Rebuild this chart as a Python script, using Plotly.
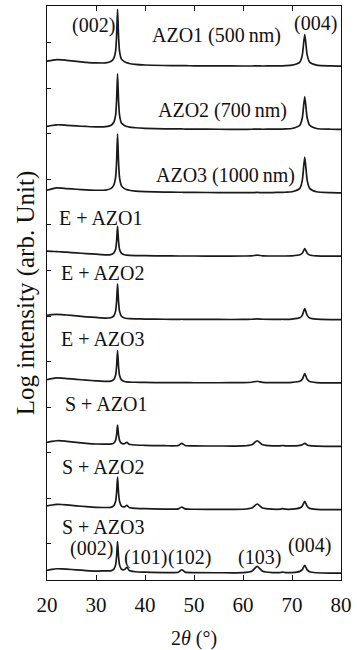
import plotly.graph_objects as go

# 2-theta sampling points shared by every pattern (degrees)
two_theta = [20, 21, 22, 23, 24, 26, 28, 30, 32, 33,
             33.6, 34.0, 34.2, 34.4, 34.6, 34.8, 35.2, 35.8, 36.3, 36.8,
             38, 40, 44, 46.8, 47.5, 48.2, 50, 55, 60, 61.8,
             62.9, 64, 66, 67.6, 68.1, 68.6, 70, 71.6, 72.1, 72.6,
             73.1, 73.6, 75, 78, 80]

# Intensities (arb. units) above each pattern's own baseline
azo1 = [5, 5.8, 6.5, 6.3, 5.8, 4.8, 3.8, 3.2, 3.2, 4.5,
        7.5, 15, 30, 57, 30, 15, 7, 4.5, 3.3, 2.6,
        1.8, 1.1, 0.6, 0.4, 0.4, 0.4, 0.3, 0.2, 0.1, 0.1,
        0.2, 0.1, 0.2, 0.3, 0.3, 0.4, 0.9, 4, 11, 32,
        11, 4, 1, 0.2, 0]
azo2 = [3, 4, 4.7, 4.6, 4.2, 3.5, 3, 2.6, 2.8, 4,
        7, 14.5, 29, 56, 29, 14.5, 6.5, 4, 3, 2.4,
        1.7, 1.1, 0.6, 0.5, 0.5, 0.4, 0.4, 0.2, 0.1, 0.2,
        0.3, 0.2, 0.3, 0.4, 0.4, 0.5, 1, 4.2, 11.5, 33,
        11.5, 4.2, 1, 0.2, 0]
azo3 = [2.7, 4, 5, 4.8, 4.3, 3.6, 3, 2.6, 2.8, 4.2,
        7.5, 15.5, 31, 59, 31, 15.5, 7, 4.2, 3.2, 2.6,
        1.8, 1.2, 0.7, 0.6, 0.6, 0.5, 0.4, 0.3, 0.2, 0.2,
        0.4, 0.2, 0.3, 0.5, 0.5, 0.6, 1.1, 4.5, 12.5, 36,
        12.5, 4.5, 1.1, 0.2, 0]
e_azo1 = [5, 4.8, 4.6, 4.3, 4, 3.3, 2.6, 2, 1.4, 1.6,
          3, 7, 15, 30, 15, 7, 2.8, 1.4, 1, 0.8,
          0.6, 0.5, 0.3, 0.2, 0.2, 0.2, 0.2, 0.1, 0.2, 0.4,
          1, 0.4, 0.2, 0.2, 0.2, 0.2, 0.4, 1.4, 3, 7.7,
          3, 1.2, 0.3, 0, 0]
e_azo2 = [4.3, 5, 5.3, 5, 4.6, 3.7, 2.8, 2.1, 1.5, 1.8,
          3.5, 8.5, 18, 36, 18, 8.5, 3.3, 1.6, 1.1, 0.9,
          0.7, 0.5, 0.3, 0.2, 0.3, 0.2, 0.2, 0.1, 0.1, 0.3,
          0.6, 0.3, 0.2, 0.2, 0.3, 0.2, 0.5, 1.8, 4.2, 11,
          4.2, 1.6, 0.4, 0, 0]
e_azo3 = [3.3, 4.4, 5, 4.8, 4.4, 3.6, 2.8, 2.1, 1.5, 1.8,
          3.3, 7.8, 16.5, 32.6, 16.5, 7.8, 3.1, 1.5, 1.1, 0.9,
          0.7, 0.5, 0.3, 0.3, 0.4, 0.3, 0.2, 0.2, 0.3, 0.7,
          1.7, 0.6, 0.3, 0.3, 0.4, 0.3, 0.5, 1.6, 3.7, 9.3,
          3.7, 1.4, 0.4, 0.1, 0]
s_azo1 = [4, 5, 5.6, 5.5, 5, 4, 3, 2.3, 2.2, 2.2,
          3.2, 6, 11.5, 21.3, 11.5, 6, 3, 2.6, 4, 2,
          1.3, 1, 0.6, 0.8, 3, 0.8, 0.4, 0.3, 0.4, 1.6,
          5.6, 1.6, 0.5, 0.5, 0.8, 0.5, 0.4, 0.9, 1.6, 3,
          1.4, 0.6, 0.2, 0, 0]
s_azo2 = [3.7, 4.7, 5.3, 5.2, 4.8, 3.9, 3, 2.3, 2.2, 2.3,
          3.8, 8.5, 17, 32.7, 17, 8.5, 3.6, 2.8, 4.3, 2.1,
          1.3, 1, 0.6, 0.8, 2.7, 0.8, 0.4, 0.3, 0.4, 1.6,
          5.7, 1.6, 0.5, 0.5, 1, 0.5, 0.5, 1.8, 3.6, 8.3,
          3.4, 1.3, 0.3, 0, 0]
s_azo3 = [2.7, 3.7, 4.3, 4.2, 3.9, 3.2, 2.5, 2, 2.2, 2.2,
          3.7, 8.2, 16.5, 31.7, 16.5, 8.2, 3.8, 3.5, 5.7, 2.5,
          1.3, 0.9, 0.5, 0.8, 3.3, 0.9, 0.4, 0.3, 0.4, 1.8,
          6.7, 1.8, 0.5, 0.5, 1, 0.5, 0.5, 1.7, 3.4, 7.7,
          3.2, 1.2, 0.3, 0, 0]

# Patterns from top to bottom of the stack, with their labels
patterns = [azo1, azo2, azo3, e_azo1, e_azo2, e_azo3, s_azo1, s_azo2, s_azo3]
sample_labels = ["AZO1 (500\u2009nm)", "AZO2 (700\u2009nm)", "AZO3 (1000\u2009nm)",
                 "E + AZO1", "E + AZO2", "E + AZO3",
                 "S + AZO1", "S + AZO2", "S + AZO3"]
# Label anchor for each pattern: (2theta, height above its baseline)
label_theta = [54.6, 55.9, 56.5, 31.0, 31.4, 31.4, 32.0, 31.5, 31.5]
label_height = [30.5, 19.5, 17.5, 38.5, 46.5, 44, 43, 43, 46]

# Miller-index labels: (text, 2theta, height above baseline, pattern index)
hkl_text = ["(002)", "(004)", "(002)", "(101)", "(102)", "(103)", "(004)"]
hkl_theta = [29.5, 74.75, 29.0, 40.0, 49.1, 63.3, 73.5]
hkl_height = [41, 42.5, 25, 16, 16, 16, 27.5]
hkl_pattern = [0, 0, 8, 8, 8, 8, 8]

BOTTOM_BASE = 7.0
STEP = 63.7
FONT = "Liberation Serif, Times New Roman, serif"

n = len(patterns)
offsets = [BOTTOM_BASE + STEP * (n - 1 - i) for i in range(n)]

fig = go.Figure()
for vals, off, name in zip(patterns, offsets, sample_labels):
    fig.add_trace(go.Scatter(
        x=two_theta, y=[v + off for v in vals], mode="lines", name=name,
        line=dict(color="#1a1a1a", width=1.7, shape="spline", smoothing=0.6),
        showlegend=False, hoverinfo="skip"))

annotations = []
for name, th, h, off in zip(sample_labels, label_theta, label_height, offsets):
    annotations.append(dict(x=th, y=off + h, text=name, showarrow=False,
                            xanchor="center", yanchor="middle",
                            font=dict(family=FONT, size=20, color="#111")))
for txt, th, h, idx in zip(hkl_text, hkl_theta, hkl_height, hkl_pattern):
    annotations.append(dict(x=th, y=offsets[idx] + h, text=txt, showarrow=False,
                            xanchor="center", yanchor="middle",
                            font=dict(family=FONT, size=20, color="#111")))

fig.update_layout(
    width=357, height=650,
    margin=dict(l=47, r=11, t=5, b=68),
    paper_bgcolor="white", plot_bgcolor="white",
    font=dict(family=FONT, size=20, color="#111"),
    annotations=annotations,
    xaxis=dict(
        range=[20, 80], tickvals=[20, 30, 40, 50, 60, 70, 80],
        ticks="inside", ticklen=5, tickwidth=1.2, tickcolor="#111",
        showline=True, linecolor="#111", linewidth=1.3, mirror="ticks",
        showgrid=False, zeroline=False,
        ticklabelstandoff=6,
        tickfont=dict(family=FONT, size=21),
        title=dict(text="2<i>\u03b8</i> (\u00b0)", standoff=14,
                   font=dict(family=FONT, size=20)),
    ),
    yaxis=dict(
        range=[0, 577], tick0=36.3, dtick=45.8,
        ticks="inside", ticklen=4, tickwidth=1.2, tickcolor="#111",
        showticklabels=False,
        showline=True, linecolor="#111", linewidth=1.3, mirror=True,
        showgrid=False, zeroline=False,
        title=dict(text="Log intensity (arb. Unit)", standoff=4,
                   font=dict(family=FONT, size=25)),
    ),
)

fig.write_html("out.html")
